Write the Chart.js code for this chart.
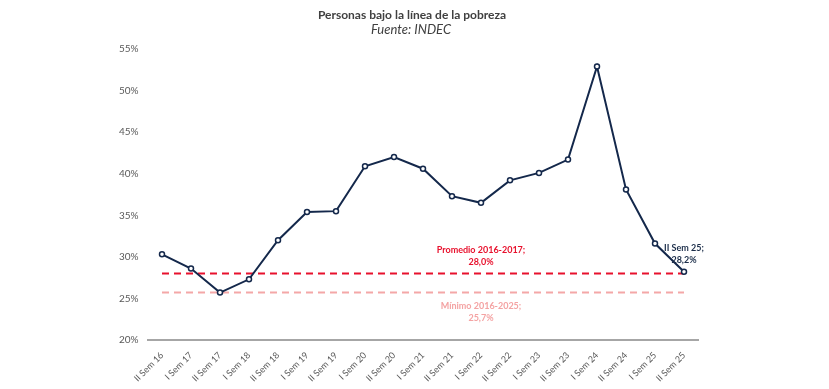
<!DOCTYPE html>
<html>
<head>
<meta charset="utf-8">
<script src="https://cdn.jsdelivr.net/npm/chart.js@4"></script>
<style>
  html, body { margin: 0; padding: 0; background: #fff; }
  #wrap { width: 829px; height: 389px; position: relative; }
</style>
</head>
<body>
<div id="wrap"><canvas id="chart-pobreza"></canvas></div>
<script>
// Semestres (INDEC)
const semestres = [
  'II Sem 16', 'I Sem 17', 'II Sem 17', 'I Sem 18', 'II Sem 18', 'I Sem 19', 'II Sem 19',
  'I Sem 20', 'II Sem 20', 'I Sem 21', 'II Sem 21', 'I Sem 22', 'II Sem 22', 'I Sem 23',
  'II Sem 23', 'I Sem 24', 'II Sem 24', 'I Sem 25', 'II Sem 25'
];
// % personas bajo la línea de pobreza
const pobreza = [30.3, 28.6, 25.7, 27.3, 32.0, 35.4, 35.5, 40.9, 42.0, 40.6, 37.3, 36.5, 39.2, 40.1, 41.7, 52.9, 38.1, 31.6, 28.2];
const promedio1617 = 28.0;
const minimo1625 = 25.7;
const yTicks = [20, 25, 30, 35, 40, 45, 50, 55];

const FONT = 'Lato, "Open Sans", sans-serif';
const fmtPct = (v) => v.toFixed(1).replace('.', ',') + '%';

// Titles + annotation labels
const annotations = {
  id: 'annotations',
  afterDraw(chart) {
    const { ctx } = chart;
    const x = chart.scales.x;
    const y = chart.scales.y;
    ctx.save();
    ctx.textAlign = 'center';
    ctx.textBaseline = 'middle';

    ctx.fillStyle = '#404040';
    ctx.font = `bold 12px ${FONT}`;
    ctx.fillText('Personas bajo la línea de la pobreza', 412, 15);
    ctx.font = `italic 13px ${FONT}`;
    ctx.fillText('Fuente: INDEC', 411, 30);

    // labels centred over "I Sem 22"
    const midX = x.getPixelForValue(11);

    ctx.font = `bold 9px ${FONT}`;
    ctx.fillStyle = '#e8112d';
    const yProm = y.getPixelForValue(promedio1617);
    ctx.fillText('Promedio 2016-2017;', midX, yProm - 23);
    ctx.fillText(fmtPct(promedio1617), midX, yProm - 11);

    ctx.fillStyle = '#f4a3a3';
    const yMin = y.getPixelForValue(minimo1625);
    ctx.fillText('Mínimo 2016-2025;', midX, yMin + 13);
    ctx.fillText(fmtPct(minimo1625), midX, yMin + 25);

    const last = pobreza.length - 1;
    const lx = x.getPixelForValue(last);
    const ly = y.getPixelForValue(pobreza[last]);
    ctx.fillStyle = '#1c2e4a';
    ctx.fillText(semestres[last] + ';', lx, ly - 24);
    ctx.fillText(fmtPct(pobreza[last]), lx, ly - 12);
    ctx.restore();
  }
};

new Chart(document.getElementById('chart-pobreza'), {
  type: 'line',
  data: {
    labels: semestres,
    datasets: [
      {
        label: 'Pobreza',
        data: pobreza,
        borderColor: '#14284b',
        borderWidth: 2,
        pointRadius: 2.5,
        pointBorderWidth: 1.5,
        pointBackgroundColor: '#ffffff',
        pointBorderColor: '#14284b',
        tension: 0,
        order: 0
      },
      {
        label: 'Promedio 2016-2017',
        data: semestres.map(() => promedio1617),
        borderColor: '#e8112d',
        borderWidth: 2,
        borderDash: [7, 5],
        pointRadius: 0,
        order: 1
      },
      {
        label: 'Mínimo 2016-2025',
        data: semestres.map(() => minimo1625),
        borderColor: '#f4a7a7',
        borderWidth: 2,
        borderDash: [7, 5],
        pointRadius: 0,
        order: 2
      }
    ]
  },
  options: {
    responsive: true,
    maintainAspectRatio: false,
    animation: false,
    layout: { padding: { left: 97.5, right: 130.5, top: 49, bottom: 4 } },
    plugins: {
      legend: { display: false },
      tooltip: { enabled: false }
    },
    scales: {
      x: {
        offset: true,
        grid: { display: false },
        border: { display: true, color: '#a6a6a6', width: 2 },
        ticks: {
          color: '#595959',
          font: { family: FONT, size: 9 },
          minRotation: 45,
          maxRotation: 45,
          autoSkip: false,
          padding: 2
        },
        afterFit(scale) { scale.height = 45; }
      },
      y: {
        min: 20,
        max: 55,
        grid: { display: false, drawTicks: false },
        border: { display: false },
        afterBuildTicks(scale) { scale.ticks = yTicks.map(v => ({ value: v })); },
        ticks: {
          color: '#595959',
          font: { family: FONT, size: 10 },
          padding: 9,
          callback: (v) => v + '%'
        },
        afterFit(scale) { scale.width = 50; }
      }
    }
  },
  plugins: [annotations]
});
</script>
</body>
</html>
